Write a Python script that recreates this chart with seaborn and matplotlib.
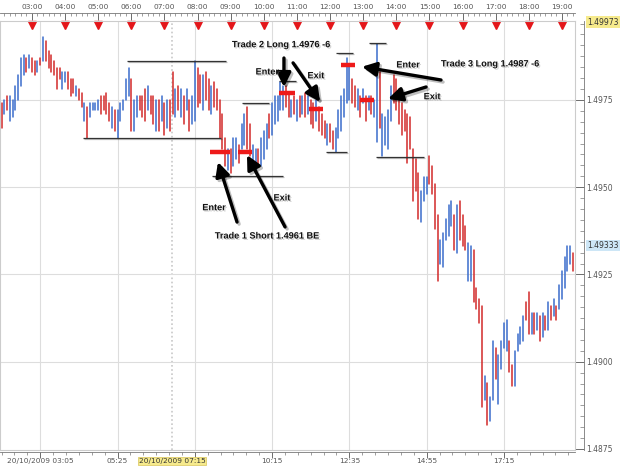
import numpy as np
import pandas as pd
import matplotlib
matplotlib.use("Agg")
import matplotlib.pyplot as plt
import matplotlib.patheffects as pe
import matplotlib.transforms as mtrans
import seaborn as sns

# 5 minute bars, 20/10/2009 02:05 -> 19:20, prices in pips above 1.4900
BASE = 1.4900

high_pips = [
    74, 75, 76, 76, 75, 79, 82, 87, 88, 87, 88,
    87, 86, 86, 87, 93, 92, 89, 88, 86, 84, 84, 83,
    83, 83, 81, 81, 79, 78, 77, 74, 73, 74, 74, 74,
    75, 76, 76, 77, 74, 73, 72, 72, 74, 75, 81, 84,
    81, 75, 76, 76, 76, 78, 79, 76, 76, 75, 75, 76,
    74, 75, 75, 83, 78, 79, 78, 76, 78, 75, 76, 86,
    84, 82, 82, 83, 81, 79, 80, 78, 75, 71, 64, 61,
    61, 64, 64, 62, 68, 71, 73, 68, 62, 61, 61, 64,
    66, 68, 71, 74, 76, 76, 80, 79, 79, 77, 75, 76,
    75, 76, 76, 77, 76, 75, 74, 75, 73, 71, 69, 68,
    68, 66, 67, 72, 76, 78, 87, 85, 81, 79, 78, 76,
    78, 76, 76, 76, 75, 91, 83, 71, 70, 72, 79, 82,
    81, 78, 74, 72, 71, 70, 61, 58, 54, 49, 53, 53,
    59, 56, 51, 42, 35, 37, 41, 45, 46, 42, 45, 46,
    42, 39, 34, 33, 32, 21, 18, 16, -4, -6, -10, 6,
    4, 2, 6, 11, 12, 6, -1, 3, 8, 10, 13, 17,
    20, 14, 14, 14, 13, 14, 13, 17, 16, 18, 16, 22,
    26, 30, 33, 33, 31,
]

low_pips = [
    67, 71, 72, 69, 70, 72, 75, 79, 82, 83, 84,
    83, 82, 83, 85, 86, 86, 84, 83, 82, 78, 81, 78,
    80, 78, 76, 77, 76, 75, 73, 69, 64, 70, 72, 72,
    72, 71, 72, 71, 69, 67, 66, 64, 69, 72, 75, 76,
    66, 66, 70, 72, 70, 69, 72, 71, 68, 66, 66, 69,
    65, 67, 66, 71, 70, 72, 70, 68, 72, 66, 68, 69,
    73, 74, 72, 75, 72, 71, 73, 72, 64, 61, 56, 55,
    54, 56, 58, 57, 61, 62, 61, 59, 55, 55, 56, 56,
    58, 61, 64, 65, 68, 69, 72, 72, 73, 70, 70, 71,
    69, 70, 71, 70, 71, 68, 67, 69, 66, 65, 64, 62,
    63, 61, 60, 64, 66, 70, 74, 75, 74, 73, 72, 70,
    74, 69, 72, 71, 70, 63, 67, 59, 62, 61, 69, 74,
    72, 68, 65, 66, 57, 61, 46, 49, 41, 40, 46, 48,
    51, 48, 38, 23, 28, 27, 35, 36, 39, 32, 31, 35,
    33, 32, 23, 23, 17, 15, 11, -13, -11, -18, -17, -11,
    -5, -12, -2, 4, 3, -3, -7, -7, 3, 5, 6, 12,
    8, 8, 8, 9, 6, 7, 9, 9, 12, 13, 12, 15,
    18, 21, 26, 28, 26,
]

# b = up bar (blue), r = down bar (red)
bar_dir = ("rbrbbbbbbrb rrbrbrrrrrrb brrrbrrbrbbb brrrrbrbbbbb rbbrrrbrrbrb "
           "rbrrbrbrbrbb rrbrrbrrrrrb rbbrbbrrbbrb bbrbbbbbrrbr brbrbrrbrrrb "
           "rrbbbbbbrrbr brbrbbrbbbbr rrrrrrrrrbbb rrrrbbbbbrbr rrbbrrrrbrbb "
           "rbbbbrrbbbbr rbrbrbrbrbrb bbbbr").replace(" ", "")

hour_labels = [f"{h:02d}:00" for h in range(3, 20)]
hour_bars = list(range(11, 208, 12))

date_ticks = [14, 42, 70, 98, 126, 154, 182]
date_labels = ["20/10/2009 03:05", "05:25", "", "10:15", "12:35", "14:55", "17:15"]
cursor_bar = 61.7
cursor_label = "20/10/2009 07:15"

# support / resistance lines: start bar, end bar, pips
level_start = [45.4, 29.5, 76.2, 87.1, 100.5, 121.2, 133.1, 117.5, 135.6]
level_end = [81.3, 79.5, 101.9, 96.9, 106.7, 127.3, 139.3, 125.1, 153.0]
level_pips = [86.2, 64.1, 53.2, 74.1, 80.4, 88.5, 91.3, 60.1, 58.7]

# trade entry / exit marks
trade_start = [75.5, 85.6, 100.5, 111.4, 123.0, 129.9]
trade_end = [82.7, 90.7, 106.3, 116.5, 128.0, 135.0]
trade_pips = [60.0, 60.0, 77.0, 72.5, 85.0, 75.0]

# arrows: tail -> head (bar, pips)
arrow_tail = [(85.3, 40.0), (102.7, 38.6), (102.3, 87.0), (105.6, 85.6), (159.2, 80.7), (153.8, 78.7)]
arrow_head = [(78.4, 57.2), (88.9, 59.2), (102.3, 78.7), (115.4, 74.4), (130.6, 84.5), (140.0, 75.3)]

notes = ["Trade 2 Long 1.4976 -6", "Enter", "Exit", "Enter", "Trade 3 Long 1.4987 -6",
         "Exit", "Enter", "Exit", "Trade 1 Short 1.4961 BE"]
note_bar = [101.3, 96.3, 113.9, 147.3, 177.0, 156.0, 77.0, 101.6, 96.2]
note_pips = [90.8, 83.0, 81.9, 85.0, 85.3, 75.9, 44.1, 46.9, 36.0]

last_high = 1.49973
last_price = 1.49333


def px(p):
    return BASE + np.asarray(p) / 10000.0


sns.set_style("white")
plt.rcParams["font.family"] = ["DejaVu Sans"]

W, H = 625, 467
fig = plt.figure(figsize=(W / 100, H / 100), dpi=100)
ax = fig.add_axes([0, (H - 450) / H, 575 / W, (450 - 21) / H])

n = len(high_pips)
idx = np.arange(n)
df = pd.DataFrame({
    "bar": np.repeat(idx, 2),
    "price": px(np.column_stack([low_pips, high_pips]).ravel()),
    "dir": np.repeat(["up" if c == "b" else "down" for c in bar_dir], 2),
})
sns.lineplot(data=df, x="bar", y="price", hue="dir", units="bar", estimator=None,
             sort=False, palette={"up": "#3a6ccc", "down": "#d22a2a"},
             lw=1.1, legend=False, ax=ax)

ax.set_xlim(-0.58, 207.75)
ax.set_ylim(px(-25.3), px(97.6))
ax.set_xlabel("")
ax.set_ylabel("")
ax.set_xticks(date_ticks)
ax.set_yticks(np.arange(1.4900, 1.4976, 0.0025))
ax.tick_params(left=False, bottom=False, labelleft=False, labelbottom=False)
ax.grid(True, color="#dddddd", lw=0.8)
for s in ax.spines.values():
    s.set_color("#cccccc")
    s.set_linewidth(0.8)
ax.axvline(cursor_bar, color="#c8c8c8", ls=(0, (1, 1.5)), lw=1.2, zorder=0)

# top time strip
top = ax.secondary_xaxis(1 + 8 / 429)
top.set_xticks(hour_bars, labels=hour_labels)
top.set_xticks(np.arange(1, 208, 2), minor=True)
top.tick_params(which="major", direction="in", length=5, width=0.6, colors="#555555",
                labelsize=5.3, pad=2.5)
top.tick_params(which="minor", direction="in", length=1.8, width=0.5, colors="#777777")
top.spines["top"].set_color("#777777")
top.spines["top"].set_linewidth(0.6)

# hour markers
tr_top = mtrans.blended_transform_factory(ax.transData, ax.transAxes)
ax.plot(hour_bars, [0.991] * len(hour_bars), ls="none", marker="v", ms=5.5,
        color="#e4161a", transform=tr_top, clip_on=False)

# bottom date strip
bot = ax.secondary_xaxis(-2 / 429)
bot.set_xticks(date_ticks, labels=date_labels)
bot.set_xticks(np.arange(0, 208, 28 / 6), minor=True)
bot.tick_params(which="major", direction="out", length=4, width=0.6, colors="#555555",
                labelsize=5.3, pad=0.5)
bot.tick_params(which="minor", direction="out", length=2, width=0.5, colors="#777777")
bot.spines["bottom"].set_color("#777777")
bot.spines["bottom"].set_linewidth(0.6)
for lbl in bot.get_xticklabels():
    lbl.set_ha("center")
tr_bot = mtrans.blended_transform_factory(ax.transData, fig.transFigure)
ax.text(cursor_bar, 6 / H, cursor_label, transform=tr_bot, ha="center", va="center",
        fontsize=5.3, color="#333333",
        bbox=dict(boxstyle="square,pad=0.12", fc="#f6ea8c", ec="#d9c65a", lw=0.5))

# right price axis
right = ax.secondary_yaxis(1 + 9 / 575)
right.set_yticks(np.arange(1.4875, 1.4999, 0.0025))
right.yaxis.set_major_formatter(matplotlib.ticker.FormatStrFormatter("%.4f"))
right.set_yticks(np.arange(1.4875, 1.4999, 0.0025 / 8), minor=True)
right.tick_params(which="major", direction="in", length=6.5, width=0.6, colors="#555555",
                  labelsize=5.5, pad=1.5)
right.tick_params(which="minor", direction="in", length=3, width=0.5, colors="#777777")
right.spines["right"].set_color("#777777")
right.spines["right"].set_linewidth(0.6)
tr_right = mtrans.blended_transform_factory(ax.transAxes, ax.transData)
for val, fc in [(last_high, "#f6ea8c"), (last_price, "#cde6f6")]:
    ax.text(1 + 12 / 575, val, f"{val:.5f}", transform=tr_right, ha="left", va="center",
            fontsize=5.5, color="#333333", clip_on=False,
            bbox=dict(boxstyle="square,pad=0.15", fc=fc, ec="none"))

# support / resistance lines
shadow = [pe.SimpleLineShadow(offset=(1, -1), alpha=0.25), pe.Normal()]
ax.hlines(px(level_pips), level_start, level_end, color="#333333", lw=0.9,
          path_effects=shadow, zorder=3)

# trade marks
ax.hlines(px(trade_pips), trade_start, trade_end, color="#ee1a1a", lw=3.2, zorder=4)

# arrows
for (tx, ty), (hx, hy) in zip(arrow_tail, arrow_head):
    ax.annotate("", xy=(hx, px(hy)), xytext=(tx, px(ty)),
                arrowprops=dict(arrowstyle="-|>,head_length=0.7,head_width=0.35",
                                lw=2.4, color="black", shrinkA=0, shrinkB=0,
                                mutation_scale=12,
                                path_effects=[pe.SimpleLineShadow(offset=(1.5, -1.5), alpha=0.25),
                                              pe.Normal()]),
                zorder=5)

# notes
txt_fx = [pe.SimplePatchShadow(offset=(1, -1), shadow_rgbFace="#888888", alpha=0.35), pe.Normal()]
for label, bx, by in zip(notes, note_bar, note_pips):
    ax.text(bx, px(by), label, ha="center", va="center", fontsize=6.6, fontweight="bold",
            family=["Liberation Sans", "DejaVu Sans"], color="#111111",
            path_effects=txt_fx, zorder=6)

fig.savefig("out.png", dpi=100)
